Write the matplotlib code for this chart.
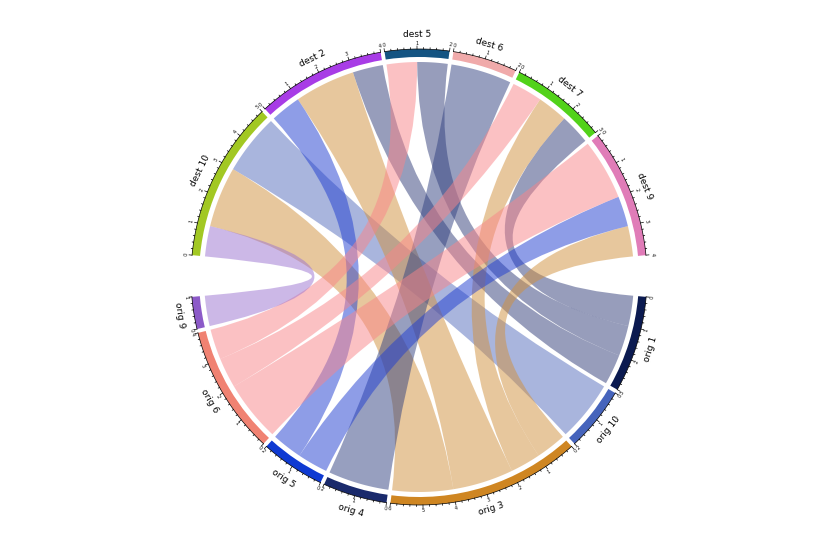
import numpy as np
import matplotlib.pyplot as plt
from matplotlib.patches import Wedge, PathPatch
from matplotlib.path import Path

origins = ["orig 1", "orig 10", "orig 3", "orig 4", "orig 5", "orig 6", "orig 9"]
dests = ["dest 10", "dest 2", "dest 5", "dest 6", "dest 7", "dest 9"]
# flows[i][j]: origin i -> destination j
flows = [
    [0, 1, 1, 0, 1, 0],
    [2, 0, 0, 0, 0, 0],
    [2, 2, 0, 0, 1, 1],
    [0, 0, 0, 2, 0, 0],
    [0, 1, 0, 0, 0, 1],
    [0, 0, 1, 0, 1, 2],
    [1, 0, 0, 0, 0, 0],
]
orig_colors = ["#0b1a50", "#4664bc", "#cf8622", "#1a2a6c", "#0f3ad2", "#f08272", "#8c5ac8"]
dest_colors = ["#a2c823", "#a83ce6", "#145482", "#f0aaaa", "#52d21a", "#e07cb8"]
chord_colors = ["#313d79", "#556dbd", "#d1913d", "#314181", "#1f3dd1", "#f98589", "#9b73d1"]

flows = np.array(flows)
names = dests + origins
sizes = list(flows.sum(axis=0)) + list(flows.sum(axis=1))
colors = dest_colors + orig_colors
n_dest = len(dests)

# layout (degrees, clockwise from the left gap)
unit, gap, big_gap = 8.2, 1.0, 10.5
r_link, r_in, r_out = 215, 220, 228

starts = []
theta = 174.5
for k, s in enumerate(sizes):
    starts.append(theta)
    theta -= s * unit
    theta -= big_gap if k in (n_dest - 1, len(names) - 1) else gap


def ang(k, v):
    return starts[k] - v * unit


def xy(a, r):
    t = np.radians(a)
    return r * np.cos(t), r * np.sin(t)


def nice_rot(a):
    a = (a + 180) % 360 - 180
    return a - 90 if a >= 0 else a + 90


# link slots inside each sector, sorted by the partner sector
links = []
for i in range(len(origins)):
    for j in range(n_dest):
        if flows[i, j] > 0:
            links.append((n_dest + i, j, flows[i, j]))

slots = {}
for k in range(len(names)):
    parts = []
    for li, (o, d, v) in enumerate(links):
        if o == k:
            parts.append((d, v, li))
        elif d == k:
            parts.append((o, v, li))
    parts.sort(key=lambda p: -p[0])
    pos = 0
    for other, v, li in parts:
        slots[(k, li)] = (pos, pos + v)
        pos += v

fig = plt.figure(figsize=(8.4, 5.6), dpi=100)
ax = fig.add_axes([0, 0, 1, 1])
ax.set_xlim(-419, 421)
ax.set_ylim(-283, 277)
ax.set_aspect("equal")
ax.axis("off")

# chords
for li, (o, d, v) in enumerate(links):
    s0, s1 = slots[(o, li)]
    t0, t1 = slots[(d, li)]
    a = np.linspace(ang(o, s0), ang(o, s1), 30)
    b = np.linspace(ang(d, t0), ang(d, t1), 30)
    verts = [xy(x, r_link) for x in a]
    codes = [Path.MOVETO] + [Path.LINETO] * (len(a) - 1)
    verts += [(0, 0), xy(b[0], r_link)]
    codes += [Path.CURVE3, Path.CURVE3]
    verts += [xy(x, r_link) for x in b[1:]]
    codes += [Path.LINETO] * (len(b) - 1)
    verts += [(0, 0), xy(a[0], r_link), (0, 0)]
    codes += [Path.CURVE3, Path.CURVE3, Path.CLOSEPOLY]
    ax.add_patch(PathPatch(Path(verts, codes), facecolor=chord_colors[o - n_dest],
                           edgecolor="none", alpha=0.5))

# sector bars, axes and labels
for k, name in enumerate(names):
    a0, a1 = ang(k, sizes[k]), starts[k]
    ax.add_patch(Wedge((0, 0), r_out, a0, a1, width=r_out - r_in,
                       facecolor=colors[k], edgecolor="none"))
    arc = np.linspace(a0, a1, 60)
    ax.plot(*xy(arc, r_out), color="black", lw=0.5)
    for v in np.arange(0, sizes[k] + 1e-6, 0.2):
        major = abs(v - round(v)) < 1e-6
        a = ang(k, v)
        ln = 3 if major else 1.5
        ax.plot(*zip(xy(a, r_out), xy(a, r_out + ln)), color="black", lw=0.5)
        if major:
            x, y = xy(a, r_out + 6)
            ax.text(x, y, str(int(round(v))), fontsize=3.5, ha="center",
                    va="center", rotation=nice_rot(a))
    mid = (a0 + a1) / 2
    x, y = xy(mid, 243)
    ax.text(x, y, name, fontsize=6.5, ha="center", va="center",
            rotation=nice_rot(mid))

fig.savefig("out.png", dpi=100)
